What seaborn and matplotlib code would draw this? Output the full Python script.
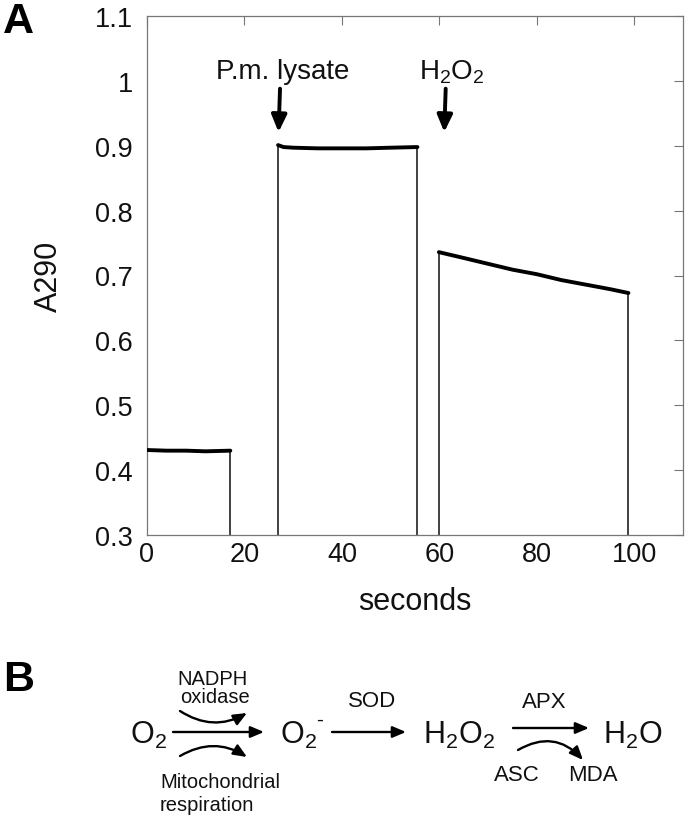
import matplotlib
matplotlib.use("Agg")
import matplotlib.pyplot as plt
import seaborn as sns
import numpy as np
import pandas as pd
from matplotlib.patches import FancyArrowPatch

# ---- data ----
t_buffer = [0.0, 4.0, 8.0, 12.0, 17.1]
a_buffer = [0.431, 0.430, 0.430, 0.429, 0.430]

t_lysate = [26.9, 28.0, 30.0, 35.0, 40.0, 45.0, 50.0, 55.5]
a_lysate = [0.901, 0.898, 0.897, 0.896, 0.896, 0.896, 0.897, 0.898]

t_h2o2 = [59.9, 65.0, 70.0, 75.0, 80.0, 85.0, 90.0, 95.0, 98.8]
a_h2o2 = [0.736, 0.727, 0.718, 0.709, 0.702, 0.693, 0.686, 0.679, 0.673]

x_ticks = [0, 20, 40, 60, 80, 100]
y_ticks = [0.3, 0.4, 0.5, 0.6, 0.7, 0.8, 0.9, 1.0, 1.1]
y_tick_labels = ["0.3", "0.4", "0.5", "0.6", "0.7", "0.8", "0.9", "1", "1.1"]

annotations = [("P.m. lysate", 27.0), ("H$_2$O$_2$", 61.0)]

sns.set_theme(style="white")
plt.rcParams["font.family"] = ["Liberation Sans", "DejaVu Sans"]
plt.rcParams["mathtext.fontset"] = "custom"
plt.rcParams["mathtext.rm"] = "Liberation Sans"
plt.rcParams["mathtext.it"] = "Liberation Sans"
plt.rcParams["text.color"] = "#111111"

W, H = 685, 820
fig = plt.figure(figsize=(W / 100, H / 100), dpi=100)

ax = fig.add_axes([147 / W, 1 - 536 / H, (683 - 147) / W, (536 - 17) / H])

segments = [(t_buffer, a_buffer), (t_lysate, a_lysate), (t_h2o2, a_h2o2)]
for t, a in segments:
    df = pd.DataFrame({"seconds": t, "A290": a})
    ax.vlines([t[0], t[-1]], 0.3, [a[0], a[-1]], color="#333333", lw=1.3, zorder=2)
    sns.lineplot(data=df, x="seconds", y="A290", ax=ax, color="black", lw=2.8, zorder=3)

ax.set_xlim(0, 110)
ax.set_ylim(0.3, 1.1)
ax.set_xticks(x_ticks)
ax.set_yticks(y_ticks)
ax.set_yticklabels(y_tick_labels)
ax.tick_params(direction="in", length=6.5, width=0.8, color="#777777",
               labelsize=19.5, top=True, right=True, labelcolor="#111111")
ax.tick_params(axis="y", pad=10)
ax.tick_params(axis="x", pad=4)
for s in ax.spines.values():
    s.set_color("#777777")
    s.set_linewidth(0.9)
ax.set_xlabel("seconds", fontsize=22, labelpad=14, color="#111111")
ax.set_ylabel("A290", fontsize=22, labelpad=22, color="#111111")

for label, xpos in annotations:
    ax.annotate("", xy=(xpos, 0.921), xytext=(xpos + 0.3, 0.988),
                arrowprops=dict(arrowstyle="-|>,head_width=0.38,head_length=0.85",
                                color="black", lw=2.8, shrinkA=0, shrinkB=0))
for label, tx in [(annotations[0][0], 27.8), (annotations[1][0], 62.6)]:
    ax.text(tx, 1.015, label, ha="center", va="center", fontsize=20, color="#111111")

fig.text(3 / W, 1 - 22 / H, "A", fontsize=31, fontweight="bold", va="center", ha="left",
         color="black")
fig.text(3 / W, 1 - 680 / H, "B", fontsize=31, fontweight="bold", va="center", ha="left",
         color="black")

# ---- panel B: reaction scheme ----
bx = fig.add_axes([0, 0, 1, (H - 640) / H])
bx.set_xlim(0, W)
bx.set_ylim(H, 640)
bx.axis("off")

big = 22
small = 14.5
mid = 16
col = "#111111"

bx.text(148, 735, r"$\mathregular{O_2}$", fontsize=big, ha="center", va="center", color=col)
bx.text(298, 735, r"$\mathregular{O_2}$", fontsize=big, ha="center", va="center", color=col)
bx.text(320, 720, "-", fontsize=15, ha="center", va="center", color=col)
bx.text(459, 735, r"$\mathregular{H_2O_2}$", fontsize=big, ha="center", va="center", color=col)
bx.text(633, 735, r"$\mathregular{H_2O}$", fontsize=big, ha="center", va="center", color=col)

bx.text(213, 680, "NADPH", fontsize=small, ha="center", va="center", color=col)
bx.text(215, 698, "oxidase", fontsize=small, ha="center", va="center", color=col)
bx.text(160, 783, "Mitochondrial", fontsize=small, ha="left", va="center", color=col)
bx.text(160, 806, "respiration", fontsize=small, ha="left", va="center", color=col)
bx.text(372, 702, "SOD", fontsize=mid, ha="center", va="center", color=col)
bx.text(544, 703, "APX", fontsize=mid, ha="center", va="center", color=col)
bx.text(517, 776, "ASC", fontsize=mid, ha="center", va="center", color=col)
bx.text(593, 776, "MDA", fontsize=mid, ha="center", va="center", color=col)

def straight(x0, x1, y):
    bx.add_patch(FancyArrowPatch((x0, y), (x1, y),
                                 arrowstyle="-|>,head_width=3.4,head_length=8",
                                 lw=1.7, color="black", shrinkA=0, shrinkB=0))

def curved(p0, p1, rad):
    bx.add_patch(FancyArrowPatch(p0, p1, connectionstyle=f"arc3,rad={rad}",
                                 arrowstyle="-|>,head_width=3.4,head_length=8",
                                 lw=1.7, color="black", shrinkA=0, shrinkB=0))

straight(173, 264, 733)
straight(332, 406, 733)
straight(513, 589, 729)
curved((180, 712), (247, 714), 0.3)
curved((180, 757), (247, 758), -0.3)
curved((518, 751), (583, 761), -0.4)

fig.savefig("out.png", dpi=100)
